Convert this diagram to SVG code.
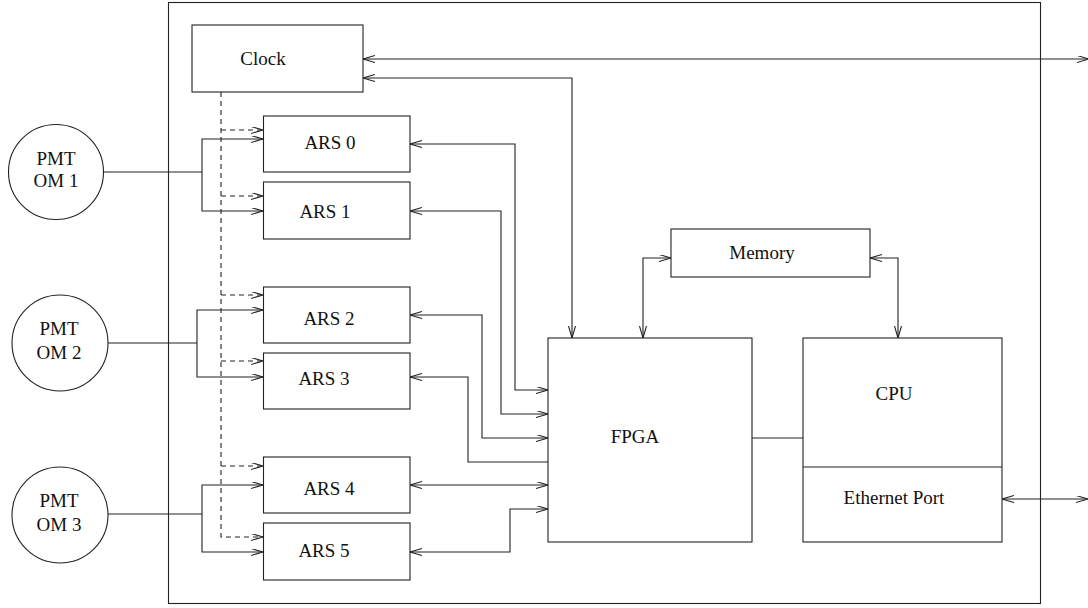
<svg xmlns="http://www.w3.org/2000/svg" width="1088" height="608" viewBox="0 0 1088 608">
<style>
.b{fill:#fff;stroke:#222;stroke-width:1.1}
.c{fill:none;stroke:#222;stroke-width:1.1}
.d{fill:none;stroke:#222;stroke-width:1.1;stroke-dasharray:5,4}
.t{font-family:"Liberation Serif","Times New Roman",serif;font-size:19px;fill:#111;text-anchor:middle}
</style>
<defs>
<marker id="ah" markerUnits="userSpaceOnUse" markerWidth="14" markerHeight="8" refX="12" refY="3.5" orient="auto-start-reverse" viewBox="0 0 14 8">
<path d="M0,0 L12,3.5 L0,7" fill="none" stroke="#222" stroke-width="1.1"/>
</marker>
</defs>
<rect x="0" y="0" width="1088" height="608" fill="#fff"/>
<g id="frame"><rect class="c" x="168.5" y="2.5" width="872" height="601"/></g>
<g id="connectors">
<path class="c" d="M363,59 H1089" marker-start="url(#ah)" marker-end="url(#ah)"/>
<path class="c" d="M363,78 H572 V338" marker-start="url(#ah)" marker-end="url(#ah)"/>
<path class="d" d="M221,92 V537 H263" marker-end="url(#ah)"/>
<path class="d" d="M221,130 H263" marker-end="url(#ah)"/>
<path class="d" d="M221,196 H263" marker-end="url(#ah)"/>
<path class="d" d="M221,295 H263" marker-end="url(#ah)"/>
<path class="d" d="M221,361 H263" marker-end="url(#ah)"/>
<path class="d" d="M221,466 H263" marker-end="url(#ah)"/>
<path class="c" d="M103,172 H202"/>
<path class="c" d="M263,139 H202 V211 H263" marker-start="url(#ah)" marker-end="url(#ah)"/>
<path class="c" d="M108,343 H197"/>
<path class="c" d="M263,310 H197 V377 H263" marker-start="url(#ah)" marker-end="url(#ah)"/>
<path class="c" d="M108,514 H202"/>
<path class="c" d="M263,485 H202 V552 H263" marker-start="url(#ah)" marker-end="url(#ah)"/>
<path class="c" d="M410,144 H515 V390 H548" marker-start="url(#ah)" marker-end="url(#ah)"/>
<path class="c" d="M410,211 H501 V414 H548" marker-start="url(#ah)" marker-end="url(#ah)"/>
<path class="c" d="M410,315 H482 V438 H548" marker-start="url(#ah)" marker-end="url(#ah)"/>
<path class="c" d="M410,377 H468 V462 H548" marker-start="url(#ah)"/>
<path class="c" d="M410,485 H548" marker-start="url(#ah)" marker-end="url(#ah)"/>
<path class="c" d="M410,552 H510 V509 H548" marker-start="url(#ah)" marker-end="url(#ah)"/>
<path class="c" d="M671,258 H643 V338" marker-start="url(#ah)" marker-end="url(#ah)"/>
<path class="c" d="M870,258 H898 V338" marker-start="url(#ah)" marker-end="url(#ah)"/>
<path class="c" d="M752,438 H803"/>
<path class="c" d="M1002,499 H1088" marker-start="url(#ah)" marker-end="url(#ah)"/>
</g>
<g id="clock"><rect class="b" x="192" y="25" width="171" height="67"/><text class="t" x="263" y="65">Clock</text></g>
<g id="pmt1"><circle class="b" cx="56" cy="172" r="47.5"/><text class="t" x="56" y="165">PMT</text><text class="t" x="56" y="187">OM 1</text></g>
<g id="pmt2"><circle class="b" cx="60" cy="343" r="48"/><text class="t" x="59" y="335">PMT</text><text class="t" x="59" y="359">OM 2</text></g>
<g id="pmt3"><circle class="b" cx="60" cy="515" r="48"/><text class="t" x="59" y="507">PMT</text><text class="t" x="59" y="531">OM 3</text></g>
<g id="ars0"><rect class="b" x="263.5" y="116" width="146.5" height="56"/><text class="t" x="330" y="149">ARS 0</text></g>
<g id="ars1"><rect class="b" x="263.5" y="182" width="146.5" height="57"/><text class="t" x="325" y="218">ARS 1</text></g>
<g id="ars2"><rect class="b" x="263.5" y="287" width="146.5" height="56"/><text class="t" x="329" y="325">ARS 2</text></g>
<g id="ars3"><rect class="b" x="263.5" y="353" width="146.5" height="56"/><text class="t" x="324" y="385">ARS 3</text></g>
<g id="ars4"><rect class="b" x="263.5" y="457" width="146.5" height="56"/><text class="t" x="329" y="495">ARS 4</text></g>
<g id="ars5"><rect class="b" x="263.5" y="523" width="146.5" height="57"/><text class="t" x="324" y="557">ARS 5</text></g>
<g id="memory"><rect class="b" x="671" y="229" width="199" height="48"/><text class="t" x="762" y="259">Memory</text></g>
<g id="fpga"><rect class="b" x="548" y="338" width="204" height="204"/><text class="t" x="635" y="443">FPGA</text></g>
<g id="cpu"><rect class="b" x="803" y="338" width="199" height="204"/><line class="c" x1="803" y1="467" x2="1002" y2="467"/><text class="t" x="894" y="400">CPU</text><text class="t" x="894" y="504">Ethernet Port</text></g>
</svg>
